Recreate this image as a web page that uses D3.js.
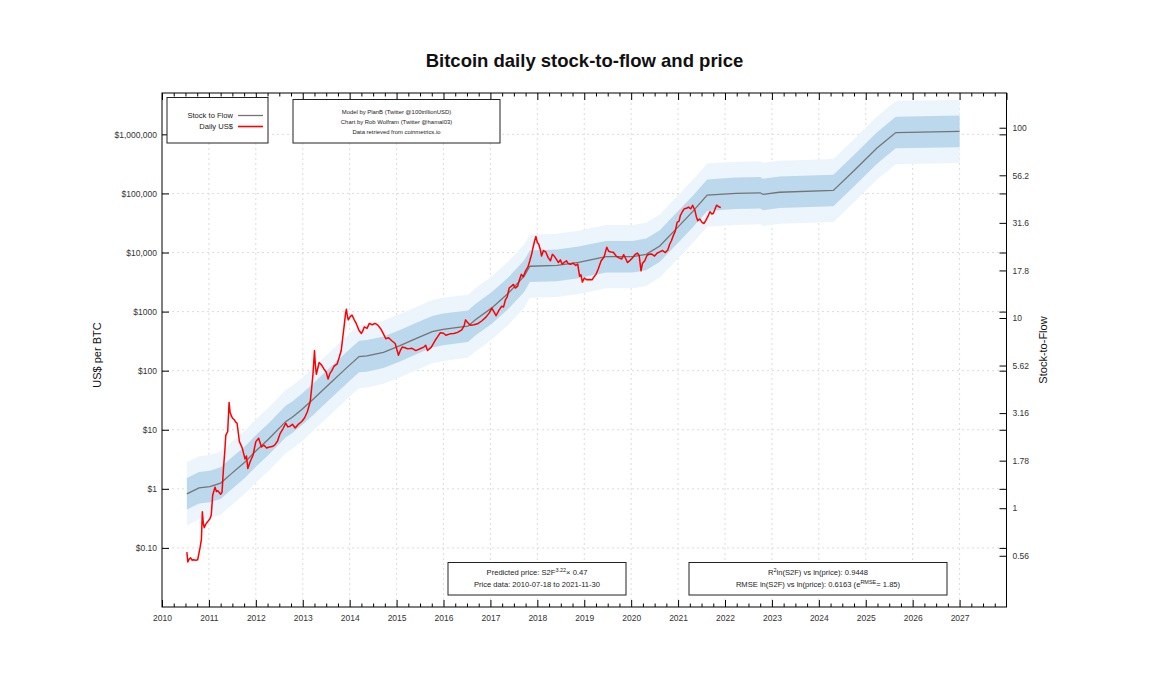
<!DOCTYPE html>
<html>
<head>
<meta charset="utf-8">
<script src="https://cdn.jsdelivr.net/npm/d3@7"></script>
<style>
  html, body { margin: 0; padding: 0; background: #fff; }
  svg { display: block; font-family: "Liberation Sans", Arial, sans-serif; }
</style>
</head>
<body>
<svg id="chart" width="1150" height="696"></svg>
<script>
// ---------------- DATA ----------------
const yearLabels = [2010,2011,2012,2013,2014,2015,2016,2017,2018,2019,2020,2021,2022,2023,2024,2025,2026,2027];
const priceTicks = [0.1, 1, 10, 100, 1000, 10000, 100000, 1000000];
const priceTickLabels = ["$0.10","$1","$10","$100","$1000","$10,000","$100,000","$1,000,000"];
const s2fTicks = [0.5623, 1, 1.778, 3.162, 5.623, 10, 17.78, 31.62, 56.23, 100];
const s2fTickLabels = ["0.56","1","1.78","3.16","5.62","10","17.8","31.6","56.2","100"];

// Stock-to-flow (right axis), decimal year
const s2fYears  = [2010.53,2010.79,2011.02,2011.25,2011.48,2011.77,2012.00,2012.29,2012.64,2012.77,2012.98,2013.21,2013.56,2013.91,2014.20,2014.37,2014.72,2015.06,2015.41,2015.76,2015.99,2016.39,2016.52,2016.68,2017.03,2017.38,2017.72,2017.84,2018.42,2018.88,2019.46,2020.03,2020.32,2020.61,2020.96,2021.31,2021.62,2022.23,2022.75,2022.81,2023.16,2024.31,2024.77,2025.24,2025.64,2027.00];
const s2fValues = [1.19,1.28,1.30,1.355,1.52,1.75,2.00,2.33,2.86,3.00,3.30,3.72,4.48,5.40,6.27,6.32,6.60,7.13,7.78,8.47,8.71,8.97,9.05,9.78,11.3,13.5,16.6,18.7,18.9,19.6,21.0,21.0,21.6,23.9,29.4,36.2,44.2,45.2,45.5,44.6,45.8,46.8,60.1,78.3,94.3,95.7];

// Daily price (left axis), decimal year, US$
const priceYears = [2010.53,2010.55,2010.58,2010.61,2010.64,2010.67,2010.72,2010.76,2010.81,2010.84,2010.86,2010.88,2010.90,2010.93,2010.96,2011.02,2011.05,2011.08,2011.13,2011.16,2011.19,2011.25,2011.28,2011.31,2011.34,2011.36,2011.40,2011.43,2011.45,2011.48,2011.51,2011.54,2011.57,2011.60,2011.65,2011.71,2011.77,2011.80,2011.83,2011.88,2011.94,2012.00,2012.06,2012.12,2012.17,2012.23,2012.29,2012.35,2012.40,2012.46,2012.52,2012.58,2012.64,2012.68,2012.73,2012.78,2012.84,2012.91,2012.98,2013.04,2013.10,2013.16,2013.19,2013.22,2013.25,2013.27,2013.29,2013.32,2013.35,2013.40,2013.45,2013.50,2013.54,2013.58,2013.62,2013.67,2013.73,2013.78,2013.82,2013.85,2013.88,2013.91,2013.93,2013.95,2013.97,2014.01,2014.05,2014.10,2014.14,2014.20,2014.25,2014.28,2014.31,2014.37,2014.42,2014.48,2014.54,2014.60,2014.66,2014.72,2014.77,2014.83,2014.89,2014.97,2015.04,2015.08,2015.12,2015.18,2015.24,2015.32,2015.41,2015.50,2015.58,2015.62,2015.66,2015.74,2015.82,2015.88,2015.93,2016.00,2016.05,2016.14,2016.22,2016.30,2016.39,2016.44,2016.47,2016.52,2016.57,2016.65,2016.74,2016.82,2016.91,2016.98,2017.03,2017.08,2017.12,2017.18,2017.24,2017.28,2017.32,2017.36,2017.40,2017.45,2017.49,2017.53,2017.58,2017.62,2017.66,2017.70,2017.75,2017.80,2017.84,2017.88,2017.91,2017.94,2017.97,2018.00,2018.03,2018.06,2018.09,2018.13,2018.18,2018.23,2018.28,2018.32,2018.36,2018.40,2018.45,2018.49,2018.53,2018.58,2018.62,2018.66,2018.71,2018.76,2018.82,2018.86,2018.90,2018.93,2018.96,2019.00,2019.05,2019.11,2019.17,2019.21,2019.25,2019.30,2019.36,2019.42,2019.48,2019.52,2019.57,2019.62,2019.68,2019.74,2019.80,2019.84,2019.88,2019.92,2019.97,2020.03,2020.08,2020.13,2020.17,2020.21,2020.24,2020.29,2020.34,2020.38,2020.44,2020.50,2020.55,2020.61,2020.67,2020.73,2020.78,2020.82,2020.86,2020.90,2020.94,2020.98,2021.02,2021.05,2021.09,2021.13,2021.18,2021.22,2021.27,2021.31,2021.36,2021.39,2021.42,2021.46,2021.51,2021.55,2021.59,2021.63,2021.68,2021.72,2021.75,2021.79,2021.82,2021.85,2021.88,2021.91];
const priceUSD   = [0.085,0.058,0.065,0.068,0.062,0.063,0.062,0.063,0.10,0.14,0.41,0.26,0.22,0.25,0.27,0.31,0.36,0.78,1.07,0.90,0.93,0.81,0.88,2.19,4.5,8.1,9.3,29,20,17,15.5,14.8,13.5,12.9,6.3,4.9,3.2,3.6,2.2,2.9,3.7,6.3,7.2,5.1,5.5,4.9,5.1,5.2,5.5,6.4,8.7,10.5,12.9,11.2,11.5,12.4,10.7,12.5,13.8,16,20.4,30,51,92,219,120,87,110,138,125,107,95,72,90,100,120,129,170,219,350,550,900,1096,850,724,820,871,720,631,480,427,470,550,520,631,600,631,590,513,420,347,360,324,288,182,220,251,245,234,240,219,235,251,270,219,250,324,380,437,430,398,420,427,445,490,580,724,650,589,600,631,700,813,960,1148,980,851,1050,1230,1200,1585,1800,2512,2700,2884,2500,2692,3500,4266,3900,4898,5700,7244,9500,12300,15500,18620,14800,13800,11500,8710,10800,10230,8200,7244,9300,8710,7800,6761,7500,6310,6900,7244,6500,6310,6600,6026,6400,3981,4200,3162,3700,3467,3500,3467,3900,4266,5300,7244,8300,12300,10500,10230,10100,8710,8100,7762,9200,8000,6761,7300,8128,9200,9772,9000,4898,6500,7244,9000,9333,9400,8710,9700,10230,10800,10000,11000,13800,16000,19500,23000,32360,34000,42660,49000,54950,56000,58880,55000,63100,51290,40000,34670,37000,32360,31000,34670,40000,48980,45000,45710,55000,63100,61000,58880,57500];

const modelExp = 3.22;
const modelCoef = 0.47;
const rmseFactor = 1.85;

// ---------------- LAYOUT ----------------
const svg = d3.select("#chart");
const L = 162, R = 1006.5, T = 93, B = 607;

const x = d3.scaleLinear().domain([2010, 2028]).range([L, R]);
const yL = d3.scaleLog().domain([0.01, Math.pow(10, 6.7)]).range([B, T]);
const toS2F = p => Math.pow(p / modelCoef, 1 / modelExp);
const yR = d3.scaleLog().domain([toS2F(0.01), toS2F(Math.pow(10, 6.7))]).range([B, T]);
const model = s => modelCoef * Math.pow(s, modelExp);

// title
svg.append("text").attr("x", 584.5).attr("y", 67).attr("text-anchor", "middle")
  .attr("font-size", 18.5).attr("font-weight", "bold").attr("fill", "#111")
  .text("Bitcoin daily stock-to-flow and price");

// grid
const grid = svg.append("g").attr("stroke", "#dcdcdc").attr("stroke-width", 1).attr("stroke-dasharray", "2,3");
yearLabels.slice(1).forEach(yr => {
  grid.append("line").attr("x1", x(yr)).attr("x2", x(yr)).attr("y1", T).attr("y2", B);
});
priceTicks.forEach(p => {
  grid.append("line").attr("x1", L).attr("x2", R).attr("y1", yL(p)).attr("y2", yL(p));
});

// bands
const s2fData = s2fYears.map((yr, i) => ({yr, s: s2fValues[i]}));
const bandArea = k => d3.area()
  .x(d => x(d.yr))
  .y0(d => yL(model(d.s) / Math.pow(rmseFactor, k)))
  .y1(d => yL(model(d.s) * Math.pow(rmseFactor, k)));
svg.append("path").datum(s2fData).attr("d", bandArea(2)).attr("fill", "#ecf5fc");
svg.append("path").datum(s2fData).attr("d", bandArea(1)).attr("fill", "#bcd8ec");

// S2F line
svg.append("path").datum(s2fData)
  .attr("d", d3.line().x(d => x(d.yr)).y(d => yR(d.s)))
  .attr("fill", "none").attr("stroke", "#747474").attr("stroke-width", 1.3);

// price line
const priceData = priceYears.map((yr, i) => ({yr, p: priceUSD[i]}));
svg.append("path").datum(priceData)
  .attr("d", d3.line().x(d => x(d.yr)).y(d => yL(d.p)))
  .attr("fill", "none").attr("stroke", "#ff0000").attr("stroke-width", 1.5)
  .attr("stroke-linejoin", "round");

// axes
function styleAxis(g) {
  g.select(".domain").remove();
  g.selectAll(".tick line").attr("stroke", "#000");
  g.selectAll(".tick text").attr("fill", "#333").attr("font-size", 8.5)
    .attr("font-family", "'Liberation Sans', Arial, sans-serif");
}
const quarterTicks = d3.range(2010, 2028.01, 0.25).filter(v => Math.abs(v - Math.round(v)) > 0.01);

// bottom
svg.append("g").attr("transform", `translate(0,${B})`)
  .call(d3.axisBottom(x).tickValues(yearLabels).tickFormat(d3.format("d")).tickSizeInner(-7).tickSizeOuter(0).tickPadding(8))
  .call(styleAxis);
svg.append("g").attr("transform", `translate(0,${B})`)
  .call(d3.axisBottom(x).tickValues(quarterTicks).tickFormat("").tickSizeInner(-3.5).tickSizeOuter(0))
  .call(styleAxis);
// top mirror
svg.append("g").attr("transform", `translate(0,${T})`)
  .call(d3.axisTop(x).tickValues(yearLabels.concat([2028])).tickFormat("").tickSizeInner(-7).tickSizeOuter(0))
  .call(styleAxis);
svg.append("g").attr("transform", `translate(0,${T})`)
  .call(d3.axisTop(x).tickValues(quarterTicks).tickFormat("").tickSizeInner(-3.5).tickSizeOuter(0))
  .call(styleAxis);
// left
svg.append("g").attr("transform", `translate(${L},0)`)
  .call(d3.axisLeft(yL).tickValues(priceTicks).tickFormat((d, i) => priceTickLabels[i]).tickSizeInner(-7).tickSizeOuter(0).tickPadding(5))
  .call(styleAxis);
// right mirror of left
svg.append("g").attr("transform", `translate(${R},0)`)
  .call(d3.axisRight(yL).tickValues(priceTicks).tickFormat("").tickSizeInner(-7).tickSizeOuter(0))
  .call(styleAxis);
// right S2F axis
svg.append("g").attr("transform", `translate(${R},0)`)
  .call(d3.axisRight(yR).tickValues(s2fTicks).tickFormat((d, i) => s2fTickLabels[i]).tickSizeInner(-7).tickSizeOuter(0).tickPadding(6))
  .call(styleAxis);

// frame
svg.append("rect").attr("x", L).attr("y", T).attr("width", R - L).attr("height", B - T)
  .attr("fill", "none").attr("stroke", "#000").attr("stroke-width", 1);

// axis titles
svg.append("text").attr("transform", `translate(101,355) rotate(-90)`).attr("text-anchor", "middle")
  .attr("font-size", 11).attr("fill", "#111").text("US$ per BTC");
svg.append("text").attr("transform", `translate(1047,350) rotate(-90)`).attr("text-anchor", "middle")
  .attr("font-size", 11).attr("fill", "#111").text("Stock-to-Flow");

// legend box
const lg = svg.append("g");
lg.append("rect").attr("x", 167).attr("y", 97.5).attr("width", 101).attr("height", 45.5)
  .attr("fill", "#fff").attr("stroke", "#222").attr("stroke-width", 1);
lg.append("text").attr("x", 233).attr("y", 118).attr("text-anchor", "end").attr("font-size", 7.6).attr("fill", "#222").text("Stock to Flow");
lg.append("line").attr("x1", 238).attr("x2", 263).attr("y1", 115.5).attr("y2", 115.5).attr("stroke", "#747474").attr("stroke-width", 1.3);
lg.append("text").attr("x", 233).attr("y", 129).attr("text-anchor", "end").attr("font-size", 7.6).attr("fill", "#222").text("Daily US$");
lg.append("line").attr("x1", 238).attr("x2", 263).attr("y1", 126.5).attr("y2", 126.5).attr("stroke", "#ff0000").attr("stroke-width", 1.6);

// credits box
const cb = svg.append("g");
cb.append("rect").attr("x", 293).attr("y", 99.5).attr("width", 207).attr("height", 43.5)
  .attr("fill", "#fff").attr("stroke", "#222").attr("stroke-width", 1);
["Model by PlanB (Twitter @100trillionUSD)", "Chart by Rob Wolfram (Twitter @hamal03)", "Data retrieved from coinmetrics.io"]
  .forEach((t, i) => cb.append("text").attr("x", 396.5).attr("y", 114 + i * 10).attr("text-anchor", "middle")
    .attr("font-size", 5.9).attr("fill", "#222").text(t));

// bottom boxes
const b1 = svg.append("g");
b1.append("rect").attr("x", 448).attr("y", 562.5).attr("width", 178).attr("height", 32.5)
  .attr("fill", "#fff").attr("stroke", "#222").attr("stroke-width", 1);
const t1 = b1.append("text").attr("x", 537).attr("y", 575).attr("text-anchor", "middle").attr("font-size", 7.6).attr("fill", "#222");
t1.append("tspan").text("Predicted price: S2F");
t1.append("tspan").attr("font-size", 5.5).attr("dy", -3.5).text("3.22");
t1.append("tspan").attr("dy", 3.5).text("× 0.47");
b1.append("text").attr("x", 537).attr("y", 587).attr("text-anchor", "middle").attr("font-size", 7.6).attr("fill", "#222")
  .text("Price data: 2010-07-18 to 2021-11-30");

const b2 = svg.append("g");
b2.append("rect").attr("x", 689).attr("y", 562.5).attr("width", 258).attr("height", 32.5)
  .attr("fill", "#fff").attr("stroke", "#222").attr("stroke-width", 1);
const t2 = b2.append("text").attr("x", 818).attr("y", 575).attr("text-anchor", "middle").attr("font-size", 7.6).attr("fill", "#222");
t2.append("tspan").text("R");
t2.append("tspan").attr("font-size", 5.5).attr("dy", -3.5).text("2");
t2.append("tspan").attr("dy", 3.5).text("ln(S2F) vs ln(price): 0.9448");
const t3 = b2.append("text").attr("x", 818).attr("y", 587).attr("text-anchor", "middle").attr("font-size", 7.6).attr("fill", "#222");
t3.append("tspan").text("RMSE ln(S2F) vs ln(price): 0.6163 (e");
t3.append("tspan").attr("font-size", 5.5).attr("dy", -3.5).text("RMSE");
t3.append("tspan").attr("dy", 3.5).text("= 1.85)");
</script>
</body>
</html>
